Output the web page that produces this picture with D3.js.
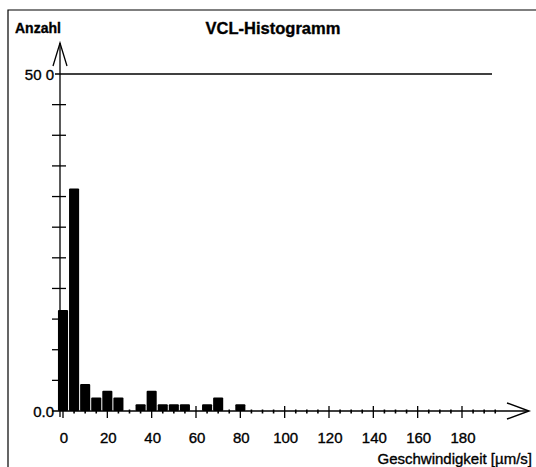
<!DOCTYPE html>
<html>
<head>
<meta charset="utf-8">
<script src="https://cdn.jsdelivr.net/npm/d3@7"></script>
<style>
  html, body { margin: 0; padding: 0; background: #fff; }
  svg { display: block; }
  text { font-family: "Liberation Sans", Arial, sans-serif; fill: #000; stroke: #000; stroke-width: 0.35; }
</style>
</head>
<body>
<svg id="chart" width="536" height="467"></svg>
<script>
// Histogram bins: centre speed (µm/s) and number of cells in each 5 µm/s bin
const binCenters = [0, 5, 10, 15, 20, 25, 30, 35, 40, 45, 50, 55, 60, 65, 70, 75, 80];
const binCounts  = [15, 33, 4, 2, 3, 2, 0, 1, 3, 1, 1, 1, 0, 1, 2, 0, 1];
const binWidth = 5;

// Axis ticks and labels
const xMajorTicks = [0, 20, 40, 60, 80, 100, 120, 140, 160, 180];
const xMinorTicks = d3.range(0, 200, 5);
const yLabelValues = [0, 50];
const yLabelTexts = ["0.0", "50 0"];
const ySubdivisions = 11;

const title = "VCL-Histogramm";
const yTitle = "Anzahl";
const xTitle = "Geschwindigkeit [µm/s]";

const svg = d3.select("#chart");

const x = d3.scaleLinear().domain([0, 180]).range([63, 462]);
const y = d3.scaleLinear().domain([0, 50]).range([411, 74]);

const axisX = 60;       // where the vertical axis sits
const y0 = y(0);

// frame
svg.append("path")
  .attr("d", "M8,470 L8,10 L540,10")
  .attr("fill", "none").attr("stroke", "#000").attr("stroke-width", 1.2);

// titles
svg.append("text").attr("x", 15).attr("y", 33)
  .attr("font-size", 14).attr("font-weight", "bold").attr("stroke-width", 0.1).text(yTitle);
svg.append("text").attr("x", 273).attr("y", 34)
  .attr("text-anchor", "middle").attr("font-size", 16.5).attr("font-weight", "bold").attr("stroke-width", 0.1).text(title);

// y axis ticks (equal subdivisions between 0 and the top line)
const yTickVals = d3.range(1, ySubdivisions).map(k => k * 50 / ySubdivisions);
svg.append("g").selectAll("line").data(yTickVals).join("line")
  .attr("x1", axisX - 8).attr("x2", axisX + 6)
  .attr("y1", d => y(d)).attr("y2", d => y(d))
  .attr("stroke", "#000").attr("stroke-width", 1.3);

// top reference line at 50
svg.append("line")
  .attr("x1", axisX - 5).attr("x2", 492)
  .attr("y1", y(50)).attr("y2", y(50))
  .attr("stroke", "#000").attr("stroke-width", 1.4);

// y labels
svg.append("g").selectAll("text").data(yLabelValues).join("text")
  .attr("x", axisX - 6).attr("y", d => y(d) + 5.5)
  .attr("text-anchor", "end").attr("font-size", 15)
  .text((d, i) => yLabelTexts[i]);

// bars
svg.append("g").selectAll("rect").data(binCenters.map((c, i) => ({c, n: binCounts[i]})).filter(d => d.n > 0))
  .join("rect")
  .attr("x", d => x(d.c - binWidth / 2) + 0.5)
  .attr("width", d => x(d.c + binWidth / 2) - x(d.c - binWidth / 2) - 1)
  .attr("y", d => y(d.n))
  .attr("height", d => y0 - y(d.n))
  .attr("rx", 1)
  .attr("fill", "#000");

// x axis line with open arrowhead
svg.append("line")
  .attr("x1", axisX - 8).attr("x2", 528)
  .attr("y1", y0).attr("y2", y0)
  .attr("stroke", "#000").attr("stroke-width", 1.4);
svg.append("path")
  .attr("d", `M507,${y0 - 8} L529,${y0} L507,${y0 + 8}`)
  .attr("fill", "none").attr("stroke", "#000").attr("stroke-width", 1.4);

// x minor ticks
svg.append("g").selectAll("line").data(xMinorTicks.filter(v => v % 20 !== 0)).join("line")
  .attr("x1", d => x(d)).attr("x2", d => x(d))
  .attr("y1", y0 - 1.5).attr("y2", y0 + 2.5)
  .attr("stroke", "#000").attr("stroke-width", 1.6);

// x major ticks
svg.append("g").selectAll("line").data(xMajorTicks).join("line")
  .attr("x1", d => x(d)).attr("x2", d => x(d))
  .attr("y1", y0 - 5).attr("y2", y0 + 7)
  .attr("stroke", "#000").attr("stroke-width", 1.3);

// x labels
svg.append("g").selectAll("text").data(xMajorTicks).join("text")
  .attr("x", d => x(d) + 1).attr("y", 443)
  .attr("text-anchor", "middle").attr("font-size", 15)
  .text(d => d);

svg.append("text").attr("x", 532).attr("y", 464)
  .attr("text-anchor", "end").attr("font-size", 15).text(xTitle);

// y axis line with open arrowhead
svg.append("line")
  .attr("x1", axisX).attr("x2", axisX)
  .attr("y1", 43).attr("y2", y0 + 6)
  .attr("stroke", "#000").attr("stroke-width", 1.3);
svg.append("path")
  .attr("d", `M${axisX - 7},66 L${axisX},43 L${axisX + 7},66`)
  .attr("fill", "none").attr("stroke", "#000").attr("stroke-width", 1.3);
</script>
</body>
</html>
